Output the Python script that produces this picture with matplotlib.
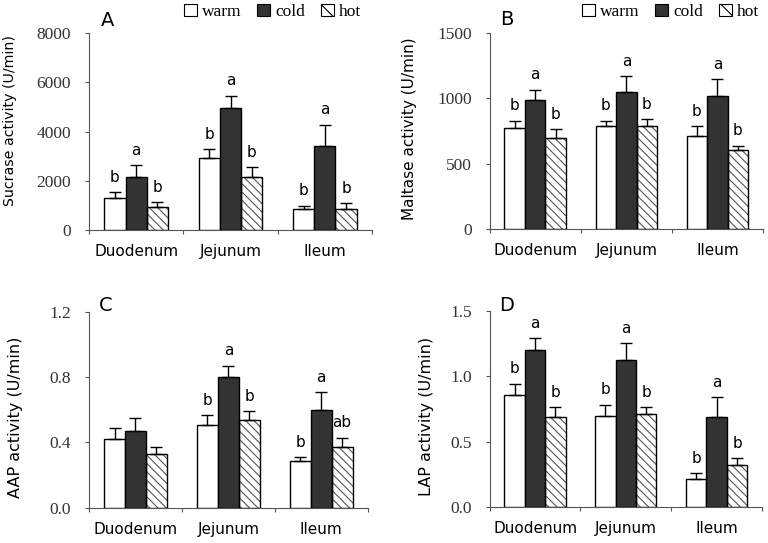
import numpy as np
import matplotlib
matplotlib.use("Agg")
import matplotlib.pyplot as plt
from matplotlib.patches import Patch

# Data (mean, upper SE) for warm / cold / hot
segments = ["Duodenum", "Jejunum", "Ileum"]
groups = ["warm", "cold", "hot"]

sucrase = [[1310, 2140, 920], [2940, 4950, 2140], [850, 3400, 850]]
sucrase_err = [[220, 480, 220], [340, 510, 420], [130, 880, 230]]
sucrase_sig = [["b", "a", "b"], ["b", "a", "b"], ["b", "a", "b"]]

maltase = [[770, 988, 694], [788, 1052, 788], [711, 1014, 604]]
maltase_err = [[60, 77, 70], [41, 115, 52], [75, 133, 33]]
maltase_sig = [["b", "a", "b"], ["b", "a", "b"], ["b", "a", "b"]]

aap = [[0.420, 0.471, 0.329], [0.504, 0.802, 0.539], [0.286, 0.598, 0.371]]
aap_err = [[0.068, 0.080, 0.045], [0.061, 0.067, 0.051], [0.022, 0.108, 0.057]]
aap_sig = [["", "", ""], ["b", "a", "b"], ["b", "a", "ab"]]

lap = [[0.859, 1.198, 0.684], [0.694, 1.124, 0.712], [0.216, 0.684, 0.323]]
lap_err = [[0.084, 0.092, 0.079], [0.089, 0.127, 0.051], [0.041, 0.155, 0.051]]
lap_sig = [["b", "a", "b"], ["b", "a", "b"], ["b", "a", "b"]]

SERIF = "Liberation Serif"
SANS = "DejaVu Sans"
fills = ["white", "#333333", "white"]
hatches = [None, None, "\\\\\\\\"]
plt.rcParams["hatch.linewidth"] = 0.8

fig = plt.figure(figsize=(7.68, 5.43), dpi=100)

panels = [
    # rect, values, errors, letters, ylim, yticks, fmt, ylabel, label size, ylabel xy, letter, letter xy, legend
    ([0.1159, 0.5764, 0.3685, 0.3628], sucrase, sucrase_err, sucrase_sig, 8000,
     [0, 2000, 4000, 6000, 8000], "{:.0f}", "Sucrase activity (U/min)", 10.2, (-0.254, 0.555), "A", (0.064, 1.066), (0.648, 1.107)),
    ([0.6376, 0.5783, 0.3559, 0.3610], maltase, maltase_err, maltase_sig, 1500,
     [0, 500, 1000, 1500], "{:.0f}", "Maltase activity (U/min)", 11, (-0.266, 0.513), "B", (0.062, 1.071), (0.662, 1.107)),
    ([0.1159, 0.0650, 0.3629, 0.3610], aap, aap_err, aap_sig, 1.2,
     [0.0, 0.4, 0.8, 1.2], "{:.1f}", "AAP activity (U/min)", 11.5, (-0.237, 0.46), "C", (0.061, 1.034), None),
    ([0.6376, 0.0663, 0.3546, 0.3615], lap, lap_err, lap_sig, 1.5,
     [0.0, 0.5, 1.0, 1.5], "{:.1f}", "LAP activity (U/min)", 11.5, (-0.205, 0.46), "D", (0.062, 1.029), None),
]

width = 0.225
offsets = [-width, 0, width]
centers = np.arange(len(segments)) + 0.5

for rect, vals, errs, sig, ytop, yticks, fmt, ylab, lsize, lxy, letter, letxy, legxy in panels:
    ax = fig.add_axes(rect)
    vals = np.array(vals)
    errs = np.array(errs)
    for j in range(3):
        x = centers + offsets[j]
        if hatches[j]:
            ax.bar(x, vals[:, j], width, color="white", edgecolor="#555555",
                   hatch=hatches[j], linewidth=0, zorder=2)
            ax.bar(x, vals[:, j], width, fill=False, edgecolor="black", linewidth=1, zorder=3)
        else:
            ax.bar(x, vals[:, j], width, color=fills[j], edgecolor="black", linewidth=1, zorder=3)
        ax.errorbar(x, vals[:, j], yerr=[np.zeros(3), errs[:, j]], fmt="none",
                    ecolor="black", elinewidth=1, capsize=4, capthick=1, zorder=4)
        for i in range(3):
            if sig[i][j]:
                ax.annotate(sig[i][j], (x[i], vals[i, j] + errs[i, j]), xytext=(0, 7.5),
                            textcoords="offset points", ha="center", va="baseline",
                            fontsize=11, family=SANS)

    ax.set_xlim(0, 3)
    ax.set_ylim(0, ytop)
    ax.spines["top"].set_visible(False)
    ax.spines["right"].set_visible(False)
    ax.spines["left"].set_color("#555555")
    ax.spines["bottom"].set_color("#555555")

    ax.set_yticks(yticks)
    ax.set_yticklabels([fmt.format(t) for t in yticks], family=SERIF, fontsize=12.5, color="#333333")
    ax.tick_params(axis="y", direction="out", length=3, pad=10, color="#555555")

    ax.set_xticks([0, 1, 2, 3])
    ax.set_xticklabels([])
    ax.tick_params(axis="x", which="major", direction="out", length=3, color="#555555")
    ax.set_xticks(centers, minor=True)
    ax.set_xticklabels(segments, minor=True, family=SANS, fontsize=11)
    ax.tick_params(axis="x", which="minor", length=0, pad=10)

    ax.set_ylabel(ylab, family=SANS, fontsize=lsize)
    ax.yaxis.set_label_coords(*lxy)
    ax.text(letxy[0], letxy[1], letter, transform=ax.transAxes, ha="center", va="center",
            fontsize=14, family=SANS)

    if legxy:
        handles = [Patch(facecolor="white", edgecolor="black", linewidth=0.8),
                   Patch(facecolor="#333333", edgecolor="black", linewidth=0.8),
                   Patch(facecolor="white", edgecolor="black", linewidth=0.8, hatch="\\\\")]
        ax.legend(handles, groups, loc="center", bbox_to_anchor=legxy, ncol=3, frameon=False,
                  prop={"family": SERIF, "size": 12.5}, handlelength=0.75, handleheight=0.75,
                  handletextpad=0.3, columnspacing=0.9, borderaxespad=0)

fig.savefig("out.png", dpi=100)
